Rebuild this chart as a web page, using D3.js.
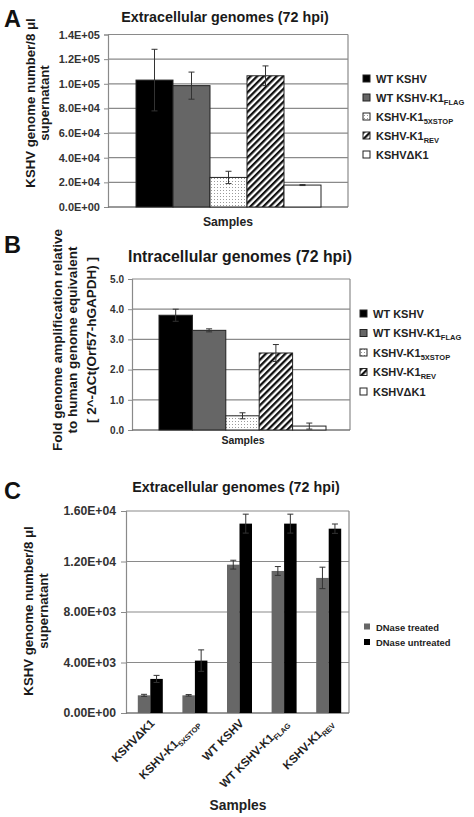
<!DOCTYPE html>
<html><head><meta charset="utf-8">
<script src="https://cdn.jsdelivr.net/npm/d3@7"></script>
<style>body{margin:0;background:#fff}svg{display:block;font-family:"Liberation Sans",Arial,sans-serif}</style>
</head><body><svg id="c" width="474" height="817"></svg>
<script>
// ---------- DATA ----------
const seriesNames = ["WT KSHV", "WT KSHV-K1", "KSHV-K1", "KSHV-K1", "KSHVΔK1"];
const seriesSubs = ["", "FLAG", "5XSTOP", "REV", ""];
const valuesA = [103000, 98500, 24000, 106500, 17800];
const errorsA = [25000, 11000, 5000, 8000, 400];
const ticksA = [0, 20000, 40000, 60000, 80000, 100000, 120000, 140000];
const tickLabelsA = ["0.0E+00", "2.0E+04", "4.0E+04", "6.0E+04", "8.0E+04", "1.0E+05", "1.2E+05", "1.4E+05"];
const valuesB = [3.8, 3.3, 0.47, 2.55, 0.13];
const errorsB = [0.2, 0.05, 0.1, 0.28, 0.1];
const ticksB = [0, 1, 2, 3, 4, 5];
const tickLabelsB = ["0.0", "1.0", "2.0", "3.0", "4.0", "5.0"];
const categoriesC = ["KSHVΔK1", "KSHV-K1", "WT KSHV", "WT KSHV-K1", "KSHV-K1"];
const categorySubsC = ["", "5XSTOP", "", "FLAG", "REV"];
const groupNamesC = ["DNase treated", "DNase untreated"];
const treatedC = [1400, 1400, 11750, 11250, 10700];
const treatedErrC = [80, 60, 350, 350, 850];
const untreatedC = [2700, 4150, 15000, 15000, 14600];
const untreatedErrC = [280, 850, 750, 750, 370];
const ticksC = [0, 4000, 8000, 12000, 16000];
const tickLabelsC = ["0.00E+00", "4.00E+03", "8.00E+03", "1.20E+04", "1.60E+04"];

// ---------- DRAW ----------
const svg = d3.select("#c");
const defs = svg.append("defs");
const dots = defs.append("pattern").attr("id","dots").attr("patternUnits","userSpaceOnUse").attr("width",3).attr("height",3);
dots.append("rect").attr("width",3).attr("height",3).attr("fill","#fff");
dots.append("rect").attr("x",1).attr("y",1).attr("width",1).attr("height",1).attr("fill","#9a9a9a");
const hatch = defs.append("pattern").attr("id","hatch").attr("patternUnits","userSpaceOnUse").attr("width",4.6).attr("height",4.6).attr("patternTransform","rotate(45)");
hatch.append("rect").attr("width",4.6).attr("height",4.6).attr("fill","#fff");
hatch.append("rect").attr("x",0).attr("y",0).attr("width",2.3).attr("height",4.6).attr("fill","#111");
const fills = ["#000", "#666", "url(#dots)", "url(#hatch)", "#fff"];
const gridCol = "#8a8a8a", txtCol = "#222";

function labelWithSub(sel, main, sub, subSize) {
  sel.append("tspan").text(main);
  if (sub) sel.append("tspan").attr("font-size", subSize).attr("dy", 3).text(sub);
}
function panelLetter(t, x, y) {
  svg.append("text").attr("x", x).attr("y", y).attr("font-size", 23.5).attr("font-weight", "bold").attr("fill", "#111").text(t);
}
function title(t, x, y, size) {
  svg.append("text").attr("x", x).attr("y", y).attr("text-anchor","middle").attr("font-size", size).attr("font-weight","bold").attr("fill","#1a1a1a").text(t);
}
function yTitle(lines, xs, cy, size) {
  lines.forEach((l, i) => svg.append("text").attr("transform", `translate(${xs[i]},${cy}) rotate(-90)`)
    .attr("text-anchor","middle").attr("font-size", size).attr("font-weight","bold").attr("fill","#1a1a1a").text(l));
}

function simplePanel(o) {
  const y = d3.scaleLinear().domain([0, o.ticks[o.ticks.length-1]]).range([o.bottom, o.top]);
  const x = d3.scaleBand().domain(d3.range(o.values.length)).range([o.barL, o.barR]).padding(0);
  const g = svg.append("g");
  g.selectAll(".gl").data(o.ticks.slice(1)).join("line").attr("x1", o.left).attr("x2", o.right)
    .attr("y1", d => y(d)).attr("y2", d => y(d)).attr("stroke", gridCol).attr("stroke-width", 1.2);
  const ax = g.append("g").attr("transform", `translate(${o.left},0)`).call(d3.axisLeft(y).tickValues(o.ticks).tickSize(4).tickFormat((d,i)=>o.tickLabels[i]));
  ax.select(".domain").attr("stroke", gridCol).attr("stroke-width",1.2);
  ax.selectAll(".tick line").attr("stroke", gridCol);
  ax.selectAll("text").attr("font-size", o.tickSize).attr("font-weight","bold").attr("fill","#333").attr("font-family","Liberation Sans, Arial").attr("dx", -1);
  g.append("line").attr("x1", o.right).attr("x2", o.right).attr("y1", o.top).attr("y2", o.bottom).attr("stroke", gridCol).attr("stroke-width",1.2);
  g.append("line").attr("x1", o.left).attr("x2", o.right).attr("y1", o.bottom).attr("y2", o.bottom).attr("stroke", "#777").attr("stroke-width",1.4);
  g.selectAll(".bar").data(o.values).join("rect").attr("x", (d,i)=>x(i)).attr("width", x.bandwidth())
    .attr("y", d => y(d)).attr("height", d => o.bottom - y(d)).attr("fill", (d,i)=>fills[i])
    .attr("stroke", "#222").attr("stroke-width", 1);
  o.values.forEach((v, i) => {
    const cx = x(i) + x.bandwidth()/2, e = o.errors[i];
    g.append("line").attr("x1",cx).attr("x2",cx).attr("y1",y(v-e)).attr("y2",y(v+e)).attr("stroke","#333").attr("stroke-width",1);
    [v-e, v+e].forEach(w => g.append("line").attr("x1",cx-3).attr("x2",cx+3).attr("y1",y(w)).attr("y2",y(w)).attr("stroke","#333").attr("stroke-width",1));
  });
  seriesNames.forEach((n, i) => {
    const ly = o.legY + i * o.legStep;
    g.append("rect").attr("x", o.legX).attr("y", ly - 4).attr("width", 7).attr("height", 7)
      .attr("fill", fills[i]).attr("stroke", "#222").attr("stroke-width", 1);
    const t = g.append("text").attr("x", o.legX + 13).attr("y", ly + 3.5).attr("font-size", 11).attr("font-weight","bold").attr("fill", txtCol);
    labelWithSub(t, n, seriesSubs[i], 7.5);
  });
  g.append("text").attr("x", o.xlabX).attr("y", o.xlabY).attr("text-anchor","middle").attr("font-size", o.xlabSize).attr("font-weight","bold").attr("fill","#222").text("Samples");
}

// Panel A
panelLetter("A", 4, 27);
title("Extracellular genomes (72 hpi)", 225, 22, 14.3);
yTitle(["KSHV genome number/8 μl", "supernatant"], [35, 49], 103, 13.2);
simplePanel({values: valuesA, errors: errorsA, ticks: ticksA, tickLabels: tickLabelsA,
  top: 34.5, bottom: 207, left: 108, right: 348, barL: 136, barR: 321, tickSize: 11,
  legX: 363, legY: 79, legStep: 19, xlabX: 228, xlabY: 226, xlabSize: 12.2});

// Panel B
panelLetter("B", 4, 253);
title("Intracellular genomes (72 hpi)", 240, 262, 15.8);
yTitle(["Fold genome amplification relative", "to human genome equivalent", "[ 2^-ΔCt(Orf57-hGAPDH) ]"], [62, 77, 96], 340, 13.5);
simplePanel({values: valuesB, errors: errorsB, ticks: ticksB, tickLabels: tickLabelsB,
  top: 279, bottom: 430, left: 132, right: 350, barL: 159, barR: 326, tickSize: 10,
  legX: 360, legY: 314, legStep: 19.5, xlabX: 243, xlabY: 444, xlabSize: 10.5});

// Panel C
panelLetter("C", 4, 499);
title("Extracellular genomes (72 hpi)", 236, 492, 14.3);
yTitle(["KSHV genome number/8 μl", "supernatant"], [33, 48], 611, 13.2);
(function(){
  const top = 511, bottom = 713, left = 126, right = 349;
  const y = d3.scaleLinear().domain([0, 16000]).range([bottom, top]);
  const x0 = d3.scaleBand().domain(d3.range(categoriesC.length)).range([left+2, right+2]);
  const x1 = d3.scaleBand().domain([0,1]).range([x0.bandwidth()/2 - 12.5, x0.bandwidth()/2 + 12.5]);
  const g = svg.append("g");
  g.selectAll(".gl").data(ticksC.slice(1)).join("line").attr("x1", left).attr("x2", right)
    .attr("y1", d => y(d)).attr("y2", d => y(d)).attr("stroke", gridCol).attr("stroke-width",1.2);
  const ax = g.append("g").attr("transform", `translate(${left},0)`).call(d3.axisLeft(y).tickValues(ticksC).tickSize(5).tickFormat((d,i)=>tickLabelsC[i]));
  ax.select(".domain").attr("stroke", gridCol).attr("stroke-width",1.2);
  ax.selectAll(".tick line").attr("stroke", gridCol);
  ax.selectAll("text").attr("font-size", 12.2).attr("font-weight","bold").attr("fill","#333").attr("font-family","Liberation Sans, Arial").attr("dx", -2);
  g.append("line").attr("x1", right).attr("x2", right).attr("y1", top).attr("y2", bottom).attr("stroke", gridCol).attr("stroke-width",1.2);
  g.append("line").attr("x1", left).attr("x2", right).attr("y1", bottom).attr("y2", bottom).attr("stroke", "#777").attr("stroke-width",1.4);
  const cols = ["#676767", "#000"];
  const sets = [[treatedC, treatedErrC], [untreatedC, untreatedErrC]];
  sets.forEach(([vals, errs], s) => {
    vals.forEach((v, i) => {
      const bx = x0(i) + x1(s);
      g.append("rect").attr("x", bx).attr("y", y(v)).attr("width", x1.bandwidth()).attr("height", bottom - y(v)).attr("fill", cols[s]);
      const cx = bx + x1.bandwidth()/2, e = errs[i];
      g.append("line").attr("x1",cx).attr("x2",cx).attr("y1",y(v-e)).attr("y2",y(v+e)).attr("stroke","#333").attr("stroke-width",1);
      [v-e, v+e].forEach(w => g.append("line").attr("x1",cx-3).attr("x2",cx+3).attr("y1",y(w)).attr("y2",y(w)).attr("stroke","#333").attr("stroke-width",1));
    });
  });
  categoriesC.forEach((c, i) => {
    const cx = x0(i) + x0.bandwidth()/2 + 5;
    const t = g.append("text").attr("transform", `translate(${cx},${bottom + 11}) rotate(-45)`)
      .attr("text-anchor","end").attr("font-size", 11.5).attr("font-weight","bold").attr("fill", txtCol);
    labelWithSub(t, c, categorySubsC[i], 7.5);
  });
  groupNamesC.forEach((n, i) => {
    const ly = 627 + i * 15.5;
    g.append("rect").attr("x", 364).attr("y", ly - 3.5).attr("width", 6).attr("height", 6).attr("fill", cols[i]);
    g.append("text").attr("x", 376).attr("y", ly + 3.5).attr("font-size", 9.4).attr("fill", txtCol).attr("font-weight","bold").text(n);
  });
  g.append("text").attr("x", 238).attr("y", 810).attr("text-anchor","middle").attr("font-size", 13.8).attr("font-weight","bold").attr("fill","#222").text("Samples");
})();
</script></body></html>
